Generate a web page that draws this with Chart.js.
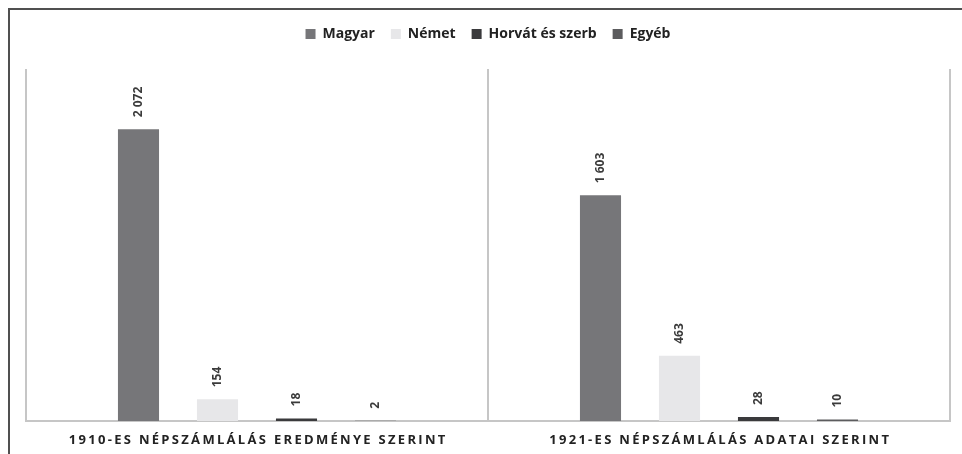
<!DOCTYPE html>
<html>
<head>
<meta charset="utf-8">
<script src="https://cdn.jsdelivr.net/npm/chart.js@4/dist/chart.umd.min.js"></script>
<style>
  html, body { margin:0; padding:0; background:#fff; overflow:hidden; }
  #frame { position:absolute; left:8px; top:8px; width:1000px; height:500px;
           border-top:2px solid #505050; border-left:2px solid #505050; }
  #wrap { position:absolute; left:0; top:0; width:962px; height:454px; }
</style>
</head>
<body>
<div id="frame"></div>
<div id="wrap"><canvas id="chart" width="962" height="454"></canvas></div>
<script>
// ---- data ----
const censusLabels = ["1910-ES NÉPSZÁMLÁLÁS EREDMÉNYE SZERINT", "1921-ES NÉPSZÁMLÁLÁS ADATAI SZERINT"];
const seriesNames = ["Magyar", "Német", "Horvát és szerb", "Egyéb"];
const magyar = [2072, 1603];
const nemet = [154, 463];
const horvatSzerb = [18, 28];
const egyeb = [2, 10];
const seriesColors = ["#767679", "#e7e7e9", "#3a3a3c", "#5c5c5e"];

const FONT = "'Open Sans', sans-serif";

function fmt(n){
  return String(n).replace(/\B(?=(\d{3})+(?!\d))/g, " ");
}

// rotated value labels above each bar
const valueLabels = {
  id: "valueLabels",
  afterDatasetsDraw(chart){
    const ctx = chart.ctx;
    chart.data.datasets.forEach((ds, di)=>{
      chart.getDatasetMeta(di).data.forEach((bar, i)=>{
        ctx.save();
        ctx.font = "bold 12px " + FONT;
        ctx.fillStyle = "#3b3b3b";
        ctx.translate(bar.x, bar.y - 12);
        ctx.rotate(-Math.PI / 2);
        ctx.textAlign = "left";
        ctx.textBaseline = "middle";
        ctx.fillText(fmt(ds.data[i]), 0, 0);
        ctx.restore();
      });
    });
  }
};

// spaced-out category labels under the axis
const spacedLabels = {
  id: "spacedLabels",
  afterDraw(chart){
    const ctx = chart.ctx;
    const x = chart.scales.x;
    ctx.save();
    ctx.font = "bold 13px " + FONT;
    ctx.fillStyle = "#222";
    ctx.letterSpacing = "2.3px";
    ctx.textAlign = "center";
    ctx.textBaseline = "middle";
    chart.data.labels.forEach((lab, i)=>{
      ctx.fillText(lab, x.getPixelForValue(i) + 1.2, chart.chartArea.bottom + 19);
    });
    ctx.restore();
  }
};

// give the legend some extra room below it
const legendGap = {
  id: "legendGap",
  beforeInit(chart){
    const fit = chart.legend.fit;
    chart.legend.fit = function(){
      fit.call(this);
      this.height += 18;
    };
  }
};

const data = [magyar, nemet, horvatSzerb, egyeb];

new Chart(document.getElementById("chart"), {
  type: "bar",
  data: {
    labels: censusLabels,
    datasets: seriesNames.map((name, i)=>({
      label: name,
      data: data[i],
      backgroundColor: seriesColors[i],
      categoryPercentage: 0.684,
      barPercentage: 0.52
    }))
  },
  options: {
    responsive: false,
    animation: false,
    layout: { padding: { left: 26, right: 12, top: 11, bottom: 33 } },
    plugins: {
      legend: {
        position: "top",
        labels: {
          boxWidth: 10,
          boxHeight: 10,
          padding: 16,
          color: "#222",
          font: { family: FONT, size: 14, weight: "bold" }
        }
      },
      tooltip: { enabled: false }
    },
    scales: {
      x: {
        offset: true,
        grid: { display: true, offset: true, color: "#c6c6c6", lineWidth: 2, drawTicks: false },
        border: { display: true, color: "#c6c6c6", width: 2 },
        ticks: { display: false }
      },
      y: {
        display: false,
        min: 0,
        max: 2500
      }
    }
  },
  plugins: [valueLabels, spacedLabels, legendGap]
});
</script>
</body>
</html>
